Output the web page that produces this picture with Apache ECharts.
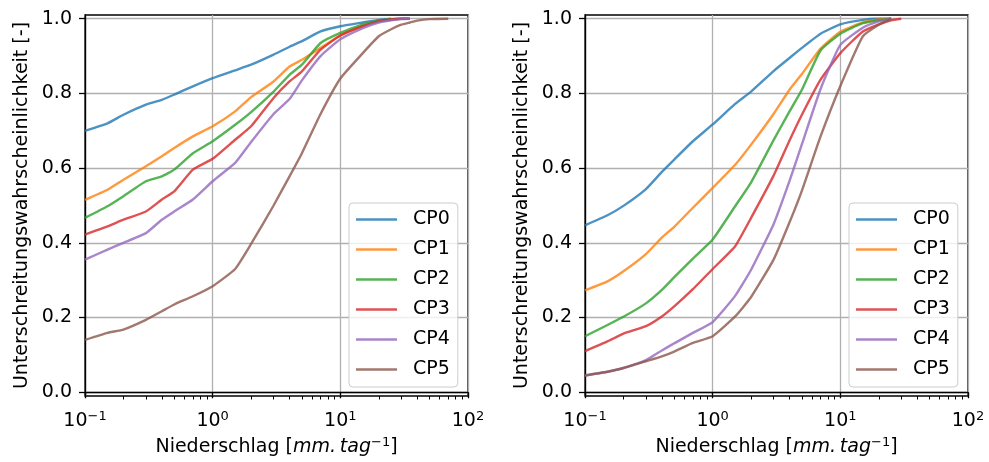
<!DOCTYPE html>
<html>
<head>
<meta charset="utf-8">
<script src="https://cdn.jsdelivr.net/npm/echarts@6/dist/echarts.min.js"></script>
<style>
html,body{margin:0;padding:0;background:#fff;}
#chart{width:989px;height:462px;}
</style>
</head>
<body>
<div id="chart"></div>
<script>
// Niederschlag x values (mm/tag) at which the curves were read
const xGrid = [0.1,0.15,0.2,0.3,0.4,0.5,0.7,1,1.5,2,3,4,5,7,10,15,20,25,30,35,40,50,70];
const seriesNames = ['CP0','CP1','CP2','CP3','CP4','CP5'];
const colors = ['#1f77b4','#ff7f0e','#2ca02c','#d62728','#9467bd','#8c564b'];

// Left panel
const leftCP0 = [0.70,0.72,0.743,0.77,0.783,0.797,0.819,0.841,0.862,0.877,0.904,0.925,0.94,0.966,0.98,0.99,0.997,1.0,null,null,null,null,null];
const leftCP1 = [0.515,0.542,0.569,0.605,0.632,0.654,0.685,0.712,0.752,0.79,0.832,0.872,0.89,0.922,0.955,0.98,0.993,0.998,1.0,1.0,null,null,null];
const leftCP2 = [0.467,0.498,0.525,0.565,0.578,0.596,0.64,0.672,0.716,0.75,0.805,0.85,0.877,0.935,0.962,0.985,0.995,0.999,1.0,1.0,null,null,null];
const leftCP3 = [0.422,0.444,0.462,0.484,0.516,0.538,0.596,0.625,0.676,0.712,0.788,0.832,0.859,0.917,0.955,0.98,0.993,0.998,1.0,1.0,null,null,null];
const leftCP4 = [0.355,0.382,0.40,0.426,0.462,0.484,0.516,0.565,0.614,0.67,0.745,0.785,0.835,0.90,0.945,0.975,0.99,0.996,0.999,1.0,null,null,null];
const leftCP5 = [0.14,0.159,0.168,0.194,0.217,0.235,0.257,0.284,0.33,0.397,0.50,0.578,0.64,0.745,0.84,0.908,0.953,0.972,0.984,0.99,0.995,0.999,1.0];

// Right panel
const rightCP0 = [0.447,0.474,0.499,0.544,0.59,0.623,0.672,0.717,0.772,0.805,0.86,0.895,0.922,0.96,0.985,0.997,1.0,1.0,null,null,null,null,null];
const rightCP1 = [0.273,0.297,0.324,0.37,0.414,0.443,0.494,0.547,0.609,0.663,0.745,0.81,0.852,0.92,0.965,0.99,0.998,1.0,null,null,null,null,null];
const rightCP2 = [0.15,0.18,0.202,0.238,0.274,0.308,0.358,0.409,0.498,0.562,0.675,0.752,0.81,0.915,0.96,0.988,0.996,1.0,null,null,null,null,null];
const rightCP3 = [0.11,0.136,0.157,0.177,0.203,0.23,0.276,0.33,0.391,0.467,0.58,0.674,0.743,0.837,0.908,0.966,0.985,0.996,1.0,null,null,null,null];
const rightCP4 = [0.045,0.055,0.065,0.086,0.112,0.131,0.159,0.188,0.258,0.328,0.45,0.566,0.664,0.812,0.93,0.976,0.993,1.0,null,null,null,null,null];
const rightCP5 = [0.045,0.055,0.065,0.083,0.096,0.109,0.132,0.15,0.203,0.255,0.355,0.455,0.54,0.685,0.82,0.953,0.984,1.0,null,null,null,null,null];

const yTicks = [0,0.2,0.4,0.6,0.8,1.0];
const xMajor = [0.1,1,10,100];
const xMinor = [0.2,0.3,0.4,0.5,0.6,0.7,0.8,0.9,2,3,4,5,6,7,8,9,20,30,40,50,60,70,80,90];
const yAxisTitle = 'Unterschreitungswahrscheinlichkeit [-]';

const leftData = [leftCP0,leftCP1,leftCP2,leftCP3,leftCP4,leftCP5];
const rightData = [rightCP0,rightCP1,rightCP2,rightCP3,rightCP4,rightCP5];

const FONT = 'DejaVu Sans';
const FS = 19;
const SUP = 13;

function pairs(vals){
  return xGrid.map((x,i)=>[x,vals[i]]).filter(p=>p[1]!==null);
}

const grids = [
  {left:85, right:521, top:15, bottom:66, show:true, borderColor:'#000', borderWidth:1.3, backgroundColor:'transparent'},
  {left:585, right:21, top:15, bottom:66, show:true, borderColor:'#000', borderWidth:1.3, backgroundColor:'transparent'}
];

const xAxes = [];
const yAxes = [];
[0,1].forEach(g=>{
  xAxes.push({
    type:'log', logBase:10, min:0.1, max:100, gridIndex:g,
    axisLine:{show:true, lineStyle:{color:'#000', width:1.3}},
    axisTick:{show:true, length:6, lineStyle:{color:'#000', width:1.3}, customValues: xMajor},
    splitLine:{show:true, lineStyle:{color:'#b0b0b0', width:1.3}},
    minorTick:{show:false}, minorSplitLine:{show:false},
    axisLabel:{
      margin:14, customValues: xMajor,
      formatter: v => { const e = Math.round(Math.log10(v)); return '{b|10}{s|' + (e<0?'\u2212'+(-e):e) + '}'; },
      rich:{
        b:{fontFamily:FONT, fontSize:FS, color:'#000'},
        s:{fontFamily:FONT, fontSize:SUP, color:'#000', padding:[0,0,10,0]}
      }
    },
    name:'{n|Niederschlag [}{i|mm.\u2009tag}{s|\u22121}{n|]}',
    nameLocation:'middle', nameGap:39,
    nameTextStyle:{
      rich:{
        n:{fontFamily:FONT, fontSize:FS, color:'#000'},
        i:{fontFamily:FONT, fontSize:FS, fontStyle:'italic', color:'#000'},
        s:{fontFamily:FONT, fontSize:SUP, color:'#000', padding:[0,0,10,0]}
      }
    }
  });
  xAxes.push({
    type:'log', logBase:10, min:0.1, max:100, gridIndex:g, position:'bottom',
    axisLine:{show:false},
    axisTick:{show:true, length:3.5, lineStyle:{color:'#000', width:1}, customValues: xMinor},
    axisLabel:{show:false},
    splitLine:{show:false}
  });
  yAxes.push({
    type:'value', min:-0.01, max:1.01, gridIndex:g,
    axisLine:{show:true, lineStyle:{color:'#000', width:1.3}},
    axisTick:{show:true, length:6, lineStyle:{color:'#000', width:1.3}, customValues: yTicks},
    splitLine:{show:true, lineStyle:{color:'#b0b0b0', width:1.3}},
    axisLabel:{customValues: yTicks, margin:13, fontFamily:FONT, fontSize:FS, color:'#000', formatter: v => v.toFixed(1)},
    name: yAxisTitle, nameLocation:'middle', nameRotate:90, nameGap:53,
    nameTextStyle:{fontFamily:FONT, fontSize:FS, color:'#000'}
  });
});

const series = [];
[leftData, rightData].forEach((panel, g)=>{
  panel.forEach((vals, i)=>{
    series.push({
      name: seriesNames[i], type:'line', xAxisIndex: g*2, yAxisIndex: g,
      data: pairs(vals), showSymbol:false, symbol:'none', smooth:0.15,
      lineStyle:{color:colors[i], width:2.4, opacity:0.8},
      itemStyle:{color:colors[i], opacity:0.8},
      animation:false, clip:true
    });
  });
});

function legendAt(left){
  return {
    orient:'vertical', left:left, top:203,
    data: seriesNames,
    itemWidth:41, itemHeight:14, itemGap:11,
    padding:[7,8,8,7],
    backgroundColor:'rgba(255,255,255,0.8)',
    borderColor:'#cccccc', borderWidth:1, borderRadius:4,
    textStyle:{fontFamily:FONT, fontSize:FS, color:'#000', padding:[0,0,0,11]},
    selectedMode:false,
    icon:'path://M0,0 L41,0 L41,2.4 L0,2.4 Z'
  };
}

const chart = echarts.init(document.getElementById('chart'), null, {renderer:'canvas'});
chart.setOption({
  animation:false,
  backgroundColor:'#fff',
  textStyle:{fontFamily:FONT},
  grid: grids,
  xAxis: xAxes,
  yAxis: yAxes,
  legend: [legendAt(349), legendAt(849)],
  series: series
});
</script>
</body>
</html>
